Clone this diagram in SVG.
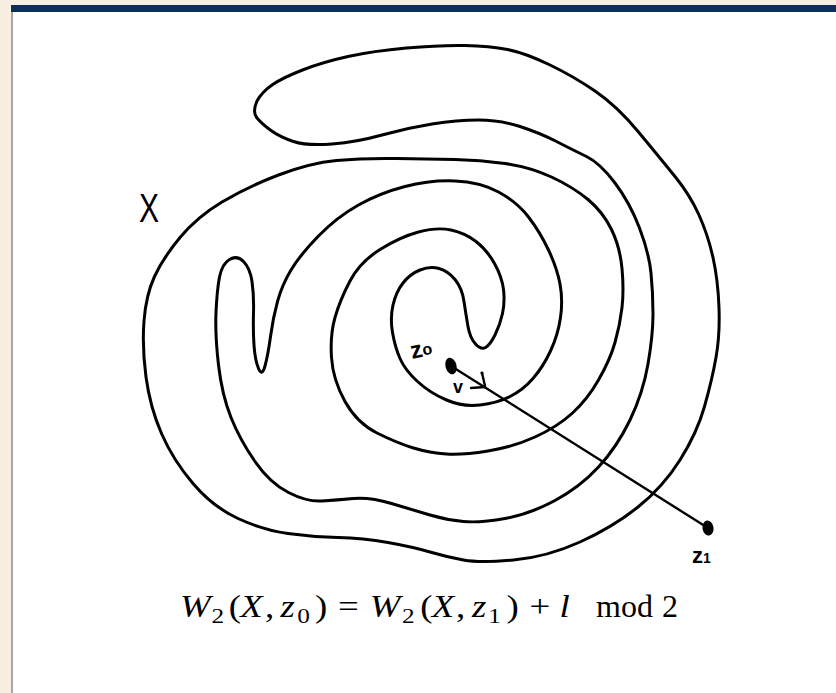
<svg xmlns="http://www.w3.org/2000/svg" width="836" height="693" viewBox="0 0 836 693">
<style>
.curve{fill:none;stroke:#000;stroke-width:3;stroke-linejoin:round;stroke-linecap:round}
.seg{fill:none;stroke:#000;stroke-width:2.4;stroke-linecap:round}
.hand{font-family:"Liberation Sans","DejaVu Sans",sans-serif;font-weight:bold;fill:#000}
.math{font-family:"Liberation Serif","DejaVu Serif",serif;fill:#000;font-size:32px}
.it{font-style:italic}
.sub{font-size:22px}
</style>
<g id="frame">
<rect x="0" y="0" width="836" height="693" fill="#f6efe2"/>
<rect x="11" y="5" width="825" height="7" fill="#0b2f5b"/>
<rect x="11" y="12" width="2" height="681" fill="#a8a8a8"/>
<rect x="13" y="12" width="823" height="681" fill="#ffffff"/>
</g>
<g id="curve-X">
<path class="curve" d="M257,118 Q252,112 257,101 Q262,92 272,85 Q282,78 302.5,70 Q323,62 348,56.5 Q373,51 406.5,48 Q440,45 465,45.5 Q490,46 507.5,49.5 Q525,53 549,64.5 Q573,76 595,91 Q617,106 638.5,132 Q660,158 675,176.5 Q690,195 699,215 Q708,235 713,257.5 Q718,280 719,307.5 Q720,335 716,357.5 Q712,380 704.5,406.5 Q697,433 680,460 Q663,487 638,507 Q613,527 580,542 Q547,557 513.5,560 Q480,563 463.5,560 Q447,557 430,552 Q413,547 388,542.5 Q363,538 338,537.5 Q313,537 288,533.5 Q263,530 238,518.5 Q213,507 193,483.5 Q173,460 161.5,433.5 Q150,407 146,377 Q142,347 144,321 Q146,295 154.5,276.5 Q163,258 180,237.5 Q197,217 222,202 Q247,187 278.5,175 Q310,163 336.5,160.5 Q363,158 396.5,158.5 Q430,159 455,159.5 Q480,160 505,163.5 Q530,167 551.5,177 Q573,187 588,199.5 Q603,212 611.5,229.5 Q620,247 622,268.5 Q624,290 622,307.5 Q620,325 615,342.5 Q610,360 598.5,380 Q587,400 572,413.5 Q557,427 535,437 Q513,447 488,451 Q463,455 446.5,454 Q430,453 413.5,448 Q397,443 377,433 Q357,423 345,401.5 Q333,380 331.5,357.5 Q330,335 335,317.5 Q340,300 350,281 Q360,262 380,249.5 Q400,237 418.5,232 Q437,227 451,230 Q465,233 476,241.5 Q487,250 494.5,263.5 Q502,277 503.5,289.5 Q505,302 502.5,313.5 Q500,325 495,335 Q490,345 485.5,347.5 Q481,350 475.5,344 Q470,338 468,326.5 Q466,315 464,301.5 Q462,288 455,279.5 Q448,271 439,268.5 Q430,266 420,270 Q410,274 403,283 Q396,292 393,305 Q390,318 392.5,332.5 Q395,347 400,358.5 Q405,370 417.5,381.5 Q430,393 446.5,400 Q463,407 480,405 Q497,403 510,396.5 Q523,390 533,378.5 Q543,367 550.5,351 Q558,335 560.5,317.5 Q563,300 560,284 Q557,268 548.5,250 Q540,232 528.5,217 Q517,202 498.5,192 Q480,182 455,181 Q430,180 405,186.5 Q380,193 358.5,205 Q337,217 318.5,236 Q300,255 291,270 Q282,285 277.5,301.5 Q273,318 270.5,336.5 Q268,355 265,366 Q262,377 258.5,368.5 Q255,360 254,345 Q253,330 253.5,312.5 Q254,295 252,281.5 Q250,268 243.5,261.5 Q237,255 229.5,259.5 Q222,264 219.5,277 Q217,290 216,312.5 Q215,335 218.5,365 Q222,395 231,417.5 Q240,440 255,461.5 Q270,483 288.5,492.5 Q307,502 322,501 Q337,500 353.5,498.5 Q370,497 391.5,503.5 Q413,510 430,515 Q447,520 463.5,521.5 Q480,523 505,518.5 Q530,514 555,500.5 Q580,487 598.5,467 Q617,447 630,420 Q643,393 648,364 Q653,335 653,314 Q653,293 651,273 Q649,253 639.5,228 Q630,203 615,183 Q600,163 586.5,156.5 Q573,150 556.5,141.5 Q540,133 520,126.5 Q500,120 478.5,120 Q457,120 432,124 Q407,128 382,135 Q357,142 332,144 Q307,146 293.5,141.5 Q280,137 271,130.5 Q262,124 257,118 Z"/>
</g>
<g id="label-X">
<text class="hand" style="font-weight:normal" font-size="40" transform="translate(139,222) scale(0.75,1)">X</text>
</g>
<g id="connectors">
<line class="seg" x1="451" y1="366" x2="708" y2="528"/>
<path class="seg" d="M482,373 L485,386 M471,388 L485,387"/>
<circle cx="482" cy="373" r="1.6" fill="#000"/>
</g>
<g id="z0">
<ellipse cx="451" cy="366" rx="5.5" ry="8.5" transform="rotate(-15 451 366)" fill="#000"/>
<text class="hand" font-size="24" transform="translate(412,359) rotate(-12)">z<tspan font-size="16" dy="-1">o</tspan></text>
</g>
<g id="v">
<text class="hand" font-size="18" x="453" y="393">v</text>
</g>
<g id="z1">
<ellipse cx="708" cy="528" rx="5.5" ry="7.5" transform="rotate(-10 708 528)" fill="#000"/>
<text class="hand" font-size="22" x="692" y="563">z<tspan font-size="14">1</tspan></text>
</g>
<g id="formula">
<text class="math" transform="translate(180,617) scale(1.15,1)"><tspan class="it" x="0">W</tspan><tspan class="sub" x="27.5" dy="6">2</tspan><tspan x="42.5" dy="-6">(</tspan><tspan class="it" x="52.5">X</tspan><tspan x="74">,</tspan><tspan class="it" x="87.5">z</tspan><tspan class="sub" x="102" dy="6">0</tspan><tspan x="117.5" dy="-6">)</tspan><tspan x="137.5">=</tspan><tspan class="it" x="165">W</tspan><tspan class="sub" x="193" dy="6">2</tspan><tspan x="209" dy="-6">(</tspan><tspan class="it" x="219">X</tspan><tspan x="240">,</tspan><tspan class="it" x="254">z</tspan><tspan class="sub" x="268" dy="6">1</tspan><tspan x="284" dy="-6">)</tspan><tspan x="304">+</tspan><tspan class="it" x="330">l</tspan></text>
<text class="math" font-size="30" y="617"><tspan x="596">mod</tspan><tspan x="662">2</tspan></text>
</g>
</svg>
